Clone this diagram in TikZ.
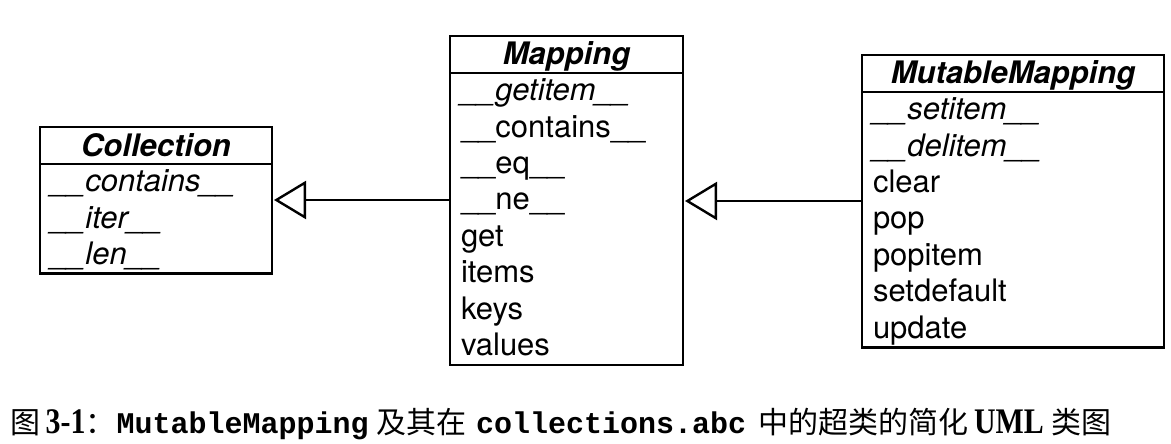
\documentclass[tikz,border=0pt]{standalone}
\usepackage{fontspec}
\setmainfont{TeX Gyre Heros}
\newfontfamily\cjk{Noto Sans CJK SC}
\newfontfamily\capserif{Liberation Serif}
\newfontfamily\capmono{Liberation Mono}
\usetikzlibrary{positioning,arrows.meta}
\newcommand{\mrow}{\rule[-9pt]{0pt}{36.5pt}}
\newcommand{\capb}[1]{\scalebox{0.83}[1]{\capserif\bfseries\fontsize{36}{40}\selectfont #1}}
\newcommand{\capc}[1]{{\capmono\bfseries\fontsize{30}{36}\selectfont #1}}

\begin{document}
\begin{tikzpicture}[x=1pt,y=-1pt]
\tikzstyle{classhead}=[rectangle, draw=black, line width=2.6pt, outer sep=0pt, inner xsep=0pt, inner ysep=4pt, minimum height=37pt, text height=25pt, text depth=4pt, font=\fontsize{31}{36.5}\selectfont\bfseries\itshape]
\tikzstyle{classbody}=[rectangle, draw=black, line width=2.6pt, outer sep=0pt, inner xsep=11pt, inner ysep=0pt, align=left, font=\fontsize{31}{36.5}\selectfont]
\tikzstyle{inherit}=[line width=2.2pt, -{Triangle[open, length=32pt, width=38pt, line width=2.4pt]}, shorten >=2pt]

\useasboundingbox (0,0) rectangle (1171,444);

% Collection class
\node[classhead, minimum width=232pt] (coll) at (156,145.5) {Collection};
\node[classbody, text width=210pt, below=0pt of coll] (collm) {\mrow\textit{\_\_contains\_\_}\\
\mrow\textit{\_\_iter\_\_}\\
\mrow\textit{\_\_len\_\_}};

% Mapping class
\node[classhead, minimum width=233pt] (map) at (566.5,54.5) {Mapping};
\node[classbody, text width=211pt, below=0pt of map] (mapm) {\mrow\textit{\_\_getitem\_\_}\\
\mrow\_\_contains\_\_\\
\mrow\_\_eq\_\_\\
\mrow\_\_ne\_\_\\
\mrow get\\
\mrow items\\
\mrow keys\\
\mrow values};

% MutableMapping class
\node[classhead, minimum width=302pt] (mut) at (1013,73.5) {MutableMapping};
\node[classbody, text width=280pt, below=0pt of mut] (mutm) {\mrow\textit{\_\_setitem\_\_}\\
\mrow\textit{\_\_delitem\_\_}\\
\mrow clear\\
\mrow pop\\
\mrow popitem\\
\mrow setdefault\\
\mrow update};

% Inheritance arrows
\coordinate (y1) at (0,200);
\coordinate (y2) at (0,201);
\draw[inherit] (mapm.west |- y1) -- (collm.east |- y1);
\draw[inherit] (mutm.west |- y2) -- (mapm.east |- y2);

% Caption
\node[anchor=base west, inner sep=0pt] (cap) at (10.5,433) {\cjk\fontsize{30}{36}\selectfont 图\hspace{5pt}\capb{3-1}：\hspace{1pt}\capc{MutableMapping}\hspace{8pt}及其在\hspace{9.5pt}\capc{collections.abc}\hspace{12pt}中的超类的简化\hspace{6pt}\capb{UML}\hspace{8pt}类图};
\end{tikzpicture}
\end{document}
